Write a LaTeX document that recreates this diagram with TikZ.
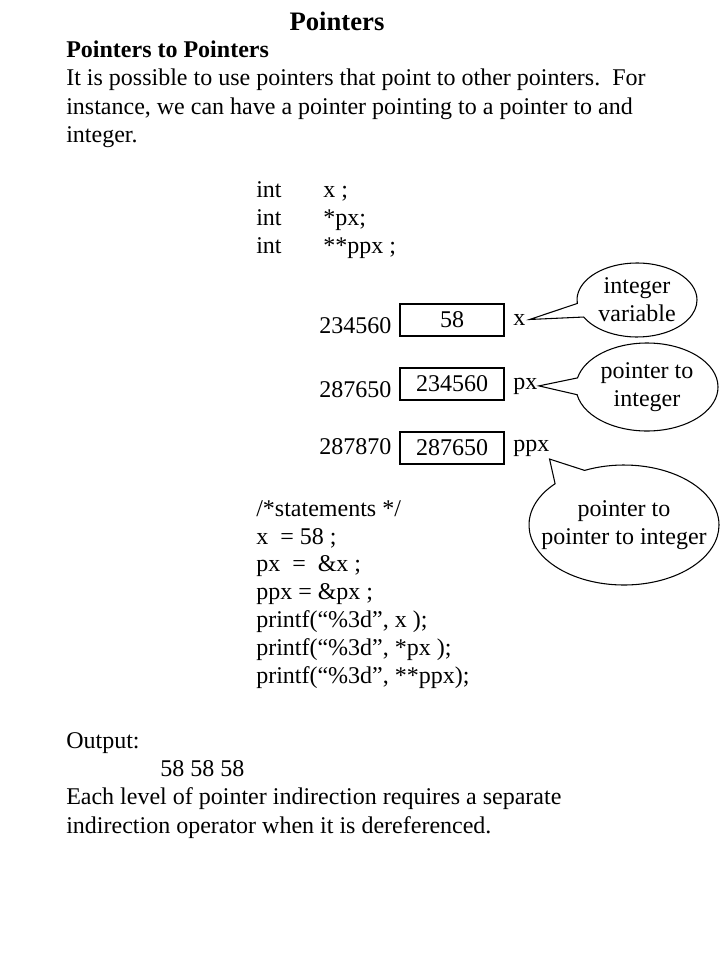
\documentclass[tikz,border=0pt]{standalone}
\usepackage{fontspec}
\setmainfont{Liberation Serif}
\usetikzlibrary{shapes.callouts}

\newcommand{\bodyfont}{\fontsize{18}{20.8}\selectfont}

\begin{document}
\begin{tikzpicture}[x=0.75pt,y=-0.75pt,
    txt/.style={anchor=base west,inner sep=0pt,font=\bodyfont},
    cell/.style={draw,line width=0.8pt,minimum width=78pt,minimum height=24pt,inner sep=0pt,font=\bodyfont},
    bubble/.style={ellipse callout,draw,line width=0.8pt,callout pointer arc=22},
    bubbletxt/.style={align=center,inner sep=0pt,font=\bodyfont}]
            \useasboundingbox (0,0) rectangle (720,960);
            % heading
            \node (title) at (337,30) [anchor=base,inner sep=0pt,font=\fontsize{20}{24}\bfseries\selectfont] {Pointers};
            \node (sub) at (66,57) [anchor=base west,inner sep=0pt,font=\fontsize{18}{20}\bfseries\selectfont] {Pointers to Pointers};
            \node (p1) at (66,85) [txt] {It is possible to use pointers that point to other pointers.\ \ For};
            \node (p2) at (66,114) [txt] {instance, we can have a pointer pointing to a pointer to and};
            \node (p3) at (66,142) [txt] {integer.};
            % declarations
            \node (t1) at (256,197) [txt] {int};
            \node (t2) at (256,225) [txt] {int};
            \node (t3) at (256,253) [txt] {int};
            \node (d1) at (323,197) [txt] {x ;};
            \node (d2) at (323,225) [txt] {*px;};
            \node (d3) at (323,253) [txt] {**ppx ;};
            % memory cells
            \node (a1) at (319,333) [txt] {234560};
            \node (a2) at (319,397) [txt] {287650};
            \node (a3) at (319,454) [txt] {287870};
            \node (c1) at (452,320) [cell] {58};
            \node (c2) at (452,384) [cell] {234560};
            \node (c3) at (452,448) [cell] {287650};
            \node (xlbl) at (513,325) [txt] {x};
            \node (pxlbl) at (513,389) [txt] {px};
            \node (ppxlbl) at (513,451) [txt] {ppx};
            \coordinate (xtip) at ([xshift=3pt]xlbl.east);
            \coordinate (pxtip) at ([xshift=1pt]pxlbl.east);
            \coordinate (ppxtip) at ([yshift=-2pt]ppxlbl.south east);
            % callouts
            \node (b1) at (637,300) [bubble,minimum width=90pt,minimum height=55.5pt,callout absolute pointer={(xtip)}] {};
            \node (b2) at (647,387) [bubble,minimum width=106.5pt,minimum height=66pt,callout absolute pointer={(pxtip)}] {};
            \node (b3) at (624,525) [bubble,minimum width=142.5pt,minimum height=90pt,callout absolute pointer={(ppxtip)}] {};
            \node (b1t) at (b1.center) [bubbletxt] {integer\\variable};
            \node (b2t) at (b2.center) [bubbletxt] {pointer to\\integer};
            \node (b3t) at (b3.center) [bubbletxt] {pointer to\\pointer to integer};
            % statements
            \node (s1) at (256,516) [txt] {/*statements */};
            \node (s2) at (256,544) [txt] {x\ \ = 58 ;};
            \node (s3) at (256,571) [txt] {px\ \ =\ \ \&x ;};
            \node (s4) at (256,599) [txt] {ppx = \&px ;};
            \node (s5) at (256,627) [txt] {printf(“\%3d”, x );};
            \node (s6) at (256,655) [txt] {printf(“\%3d”, *px );};
            \node (s7) at (256,683) [txt] {printf(“\%3d”, **ppx);};
            % output
            \node (o1) at (66,748) [txt] {Output:};
            \node (o2) at (160,776) [txt] {58 58 58};
            \node (o3) at (66,804) [txt] {Each level of pointer indirection requires a separate};
            \node (o4) at (66,833) [txt] {indirection operator when it is dereferenced.};
        \end{tikzpicture}
\end{document}
